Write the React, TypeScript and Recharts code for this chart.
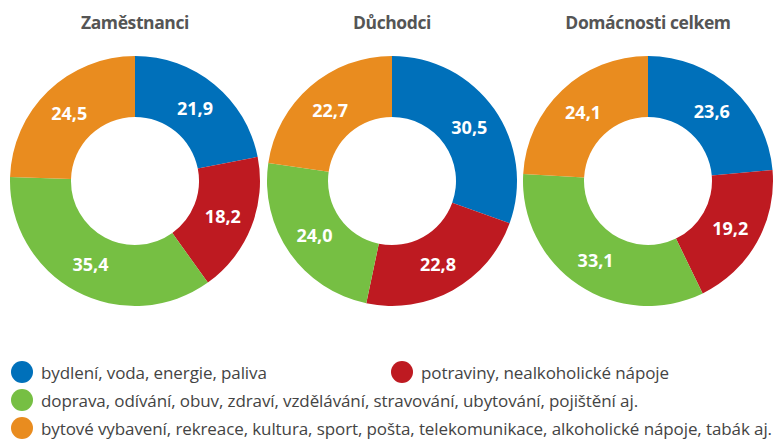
import React from 'react';
import { PieChart, Pie, Cell } from 'recharts';

const categories = [
  'bydlení, voda, energie, paliva',
  'potraviny, nealkoholické nápoje',
  'doprava, odívání, obuv, zdraví, vzdělávání, stravování, ubytování, pojištění aj.',
  'bytové vybavení, rekreace, kultura, sport, pošta, telekomunikace, alkoholické nápoje, tabák aj.',
];
const colors = ['#0070BA', '#BE1A21', '#76BF43', '#E98C1F'];
const groupTitles = ['Zaměstnanci', 'Důchodci', 'Domácnosti celkem'];
const zamestnanci = [21.9, 18.2, 35.4, 24.5];
const duchodci = [30.5, 22.8, 24.0, 22.7];
const celkem = [23.6, 19.2, 33.1, 24.1];

const seriesList = [zamestnanci, duchodci, celkem];
const centersX = [135, 392, 648];
const CY = 181;
const INNER = 64;
const OUTER = 125;
const RAD = Math.PI / 180;

const renderLabel = (props: any) => {
  const { cx, cy, midAngle, value } = props;
  const r = (INNER + OUTER) / 2;
  const x = cx + r * Math.cos(-midAngle * RAD);
  const y = cy + r * Math.sin(-midAngle * RAD);
  return (
    <text
      x={x}
      y={y}
      fill="#fff"
      textAnchor="middle"
      dominantBaseline="central"
      fontFamily="'Open Sans', sans-serif"
      fontWeight={700}
      fontSize={18}
    >
      {Number(value).toFixed(1).replace('.', ',')}
    </text>
  );
};

export default function App() {
  return (
    <div style={{ position: 'absolute', left: 0, top: 0, width: 774, height: 439, background: '#fff', fontFamily: "'Open Sans', sans-serif" }}>
      <PieChart width={774} height={340} margin={{ top: 0, right: 0, bottom: 0, left: 0 }}>
        {seriesList.map((s, i) => (
          <Pie
            key={i}
            data={s.map((v, j) => ({ name: categories[j], value: v }))}
            dataKey="value"
            cx={centersX[i]}
            cy={CY}
            innerRadius={INNER}
            outerRadius={OUTER}
            startAngle={90}
            endAngle={-270}
            stroke="none"
            label={renderLabel}
            labelLine={false}
            isAnimationActive={false}
          >
            {s.map((_, j) => (
              <Cell key={j} fill={colors[j]} />
            ))}
          </Pie>
        ))}
      </PieChart>
      {groupTitles.map((t, i) => (
        <div
          key={t}
          style={{
            position: 'absolute',
            left: centersX[i] - 120,
            width: 240,
            top: 10,
            textAlign: 'center',
            fontSize: 17.5,
            fontWeight: 700,
            color: '#555',
            letterSpacing: -0.4,
          }}
        >
          {t}
        </div>
      ))}
      {[
        { idx: 0, x: 11, y: 372 },
        { idx: 1, x: 391, y: 372 },
        { idx: 2, x: 11, y: 400 },
        { idx: 3, x: 11, y: 428 },
      ].map((it) => (
        <div
          key={it.idx}
          style={{
            position: 'absolute',
            left: it.x,
            top: it.y - 12,
            height: 24,
            display: 'flex',
            alignItems: 'center',
            whiteSpace: 'nowrap',
          }}
        >
          <span style={{ display: 'inline-block', width: 22, height: 22, borderRadius: '50%', background: colors[it.idx], marginRight: 8 }} />
          <span style={{ fontSize: 17, color: '#444', letterSpacing: -0.1 }}>{categories[it.idx]}</span>
        </div>
      ))}
    </div>
  );
}
